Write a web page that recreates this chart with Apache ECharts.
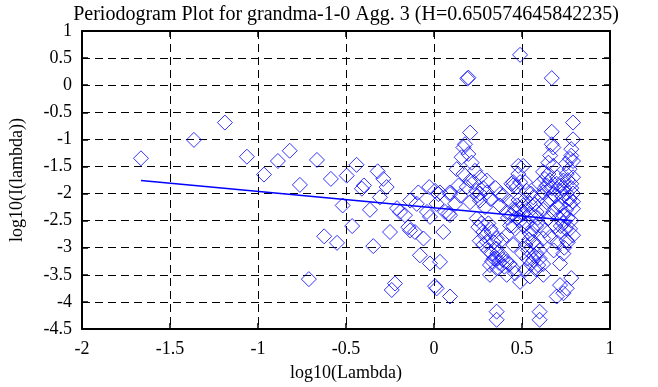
<!DOCTYPE html>
<html>
<head>
<meta charset="utf-8">
<script src="https://cdn.jsdelivr.net/npm/echarts@6/dist/echarts.min.js"></script>
<style>html,body{margin:0;padding:0;background:#fff}#c{width:658px;height:387px}</style>
</head>
<body>
<div id="c"></div>
<script>
const titleText = 'Periodogram Plot for grandma-1-0 Agg. 3 (H=0.650574645842235)';
const xName = 'log10(Lambda)';
const yName = 'log10(I(lambda))';
const xTicks = [-2, -1.5, -1, -0.5, 0, 0.5, 1];
const yTicks = [1, 0.5, 0, -0.5, -1, -1.5, -2, -2.5, -3, -3.5, -4, -4.5];

const pointsLow = [
  [-1.665,-1.35],[-1.364,-1.01],[-1.188,-0.69],[-1.063,-1.32],[-0.966,-1.65],[-0.887,-1.40],
  [-0.82,-1.21],[-0.762,-1.84],[-0.711,-3.58],[-0.665,-1.38],[-0.624,-2.79],[-0.586,-1.73],
  [-0.551,-2.91],[-0.519,-2.22],[-0.496,-1.67],[-0.465,-2.60],[-0.44,-1.47],[-0.41,-1.91],
  [-0.398,-1.85],[-0.364,-2.30],[-0.345,-2.97],[-0.32,-1.59],[-0.307,-2.07],[-0.288,-1.73],
  [-0.269,-1.88],[-0.25,-2.71],[-0.24,-3.78],[-0.222,-3.66],[-0.21,-2.27],[-0.193,-2.34],
  [-0.165,-2.40],[-0.146,-2.62],[-0.136,-2.13],[-0.136,-2.68],[-0.108,-2.71],[-0.098,-2.19],
  [-0.089,-1.98],[-0.08,-3.14],[-0.06,-2.83],[-0.04,-2.34],[-0.027,-1.88],[-0.023,-2.43],
  [-0.023,-3.29],[0.006,-3.71],[0.006,-1.95]
];
const pointsMid = [
  [0.195,0.14],[0.19,0.12],[0.205,-0.875],[0.176,-1.09],[0.167,-1.15],[0.157,-1.33],[0.195,-1.27],
  [0.214,-1.43],[0.129,-1.55],[0.167,-1.64],[0.233,-1.58],[0.261,-1.70],[0.30,-1.76],[0.205,-1.76],
  [0.186,-1.88],[0.091,-2.01],[0.025,-2.01],[0.375,-2.01],[0.261,-2.0],[0.479,-1.49],[0.479,-1.64],
  [0.489,-1.79],[0.47,-1.88],[0.44,-1.82],[0.489,0.56],[0.45,-1.79],
  [0.034,-1.98],[0.09,-1.98],[0.14,-1.85],[0.15,-2.04],[0.226,-1.79],[0.245,-2.04],[0.30,-1.98],
  [0.394,-2.04],[0.45,-1.85],[0.015,-2.19],[0.12,-2.19],[0.205,-2.16],[0.261,-2.13],[0.29,-2.25],
  [0.063,-2.34],[0.082,-2.37],[0.091,-2.40],[0.053,-2.71],[0.243,-2.46],[0.252,-2.62],[0.28,-2.71],
  [0.30,-2.89],[0.28,-2.95],[0.328,-3.11],[0.356,-3.20],[0.384,-3.14],[0.413,-3.26],[0.318,-3.32],
  [0.356,-3.38],[0.45,-3.38],[0.318,-3.50],[0.413,-3.50],[0.46,-3.47],[0.413,-2.77],[0.45,-2.95],
  [0.356,-2.83],[0.432,-2.59],[0.47,-2.46],[0.489,-2.28],[0.47,-2.22],[0.413,-2.34],[0.375,-2.22],
  [0.309,-2.55],[0.328,-2.71],[0.384,-2.86],[0.309,-3.05],[0.356,-3.02],[0.489,-3.63],[0.034,-3.26],
  [0.015,-3.75],[0.091,-3.90],[0.356,-4.18],[0.356,-4.33],
  [0.34,-3.2],[0.37,-3.28],[0.39,-3.22],[0.33,-3.25],[0.40,-3.35],[0.43,-3.3],[0.36,-3.1],
  [0.27,-2.55],[0.29,-2.78],[0.26,-2.87],[0.32,-2.65],[0.34,-2.9],
  [0.43,-2.15],[0.46,-2.3],[0.44,-2.4],[0.48,-2.12],[0.50,-2.38],[0.49,-2.5],[0.42,-2.45],[0.45,-2.6],
  [0.28,-1.9],[0.32,-2.1],[0.35,-1.9],[0.24,-1.95]
];
const pointsHigh = [
  [0.669,0.13],[0.79,-0.69],[0.669,-0.86],[0.79,-1.0],[0.669,-1.09],[0.678,-1.15],[0.78,-1.18],
  [0.66,-1.30],[0.78,-1.30],[0.79,-1.40],[0.773,-1.36],[0.65,-1.43],[0.678,-1.49],[0.507,-1.49],
  [0.65,-1.64],[0.63,-1.73],[0.66,-1.76],[0.697,-1.82],[0.754,-1.64],[0.79,-1.70],[0.78,-1.82],
  [0.735,-1.76],[0.60,-1.82],[0.517,-1.79],[0.527,-1.95],[0.621,-1.98],[0.678,-2.01],[0.754,-2.0],
  [0.716,-1.95],[0.79,-2.0],[0.564,-2.07],
  [0.507,-2.22],[0.545,-2.19],[0.64,-2.16],[0.716,-2.22],[0.773,-2.19],[0.79,-2.28],[0.507,-2.37],
  [0.583,-2.34],[0.678,-2.34],[0.735,-2.40],[0.527,-2.55],[0.60,-2.59],[0.63,-2.68],[0.735,-2.55],
  [0.773,-2.65],[0.79,-2.77],[0.716,-2.71],[0.754,-2.86],[0.545,-2.74],[0.621,-2.83],[0.564,-2.89],
  [0.536,-3.05],[0.583,-3.11],[0.564,-3.23],[0.60,-3.20],[0.592,-3.32],[0.735,-3.11],[0.716,-3.29],
  [0.517,-3.41],[0.545,-3.53],[0.621,-3.50],[0.78,-3.56],[0.716,-3.69],[0.754,-3.75],[0.697,-3.90],
  [0.735,-3.84],[0.60,-4.18],[0.60,-4.33],
  [0.62,-1.6],[0.64,-1.85],[0.67,-1.9],[0.70,-1.7],[0.72,-1.85],[0.74,-1.9],[0.76,-1.75],[0.77,-1.55],
  [0.75,-1.45],[0.63,-1.9],[0.61,-2.05],[0.69,-2.05],[0.73,-2.05],[0.77,-2.1],[0.66,-2.1],[0.70,-2.25],
  [0.75,-2.3],[0.62,-2.3],[0.65,-2.45],[0.71,-2.45],[0.76,-2.45],[0.78,-2.5],[0.69,-2.6],[0.75,-2.65],
  [0.59,-2.45],[0.55,-2.4],[0.53,-2.3],[0.57,-2.2],[0.52,-2.1],[0.55,-2.0],[0.58,-2.6],[0.56,-2.65],
  [0.54,-2.85],[0.58,-2.95],[0.60,-3.05],[0.57,-3.15],[0.55,-3.3],[0.62,-3.3],[0.58,-3.4],[0.53,-3.2],
  [0.76,-2.9],[0.74,-3.0],[0.78,-1.9],[0.79,-2.15],[0.72,-2.6],[0.66,-2.8],[0.70,-2.9],[0.68,-3.05],
  [0.51,-2.6],[0.50,-2.8],[0.52,-2.95],[0.50,-3.1]
];
const fitX = [-1.665, 0.79];
const fitY = [-1.76, -2.50];

const FONT = 'Liberation Serif';
const points = pointsLow.concat(pointsMid, pointsHigh);
const fitLine = fitX.map((x, i) => [x, fitY[i]]);

const chart = echarts.init(document.getElementById('c'), null, {renderer: 'canvas'});
const gridLine = {show: true, lineStyle: {color: '#000', width: 1, type: [8, 5]}};
const axisBase = {
  type: 'value',
  axisLine: {show: true, onZero: false, lineStyle: {color: '#000', width: 2}},
  axisTick: {show: true, inside: true, length: 6, lineStyle: {color: '#000', width: 1.5}},
  axisLabel: {color: '#000', fontFamily: FONT, fontSize: 18},
};
chart.setOption({
  animation: false,
  backgroundColor: '#fff',
  title: {
    text: titleText, left: 341, top: 0, textAlign: 'center',
    textStyle: {fontFamily: FONT, fontSize: 20, fontWeight: 'normal', color: '#000'}
  },
  grid: {left: 82, right: 48, top: 31, bottom: 56},
  xAxis: [
    Object.assign({}, axisBase, {
      min: xTicks[0], max: xTicks[xTicks.length - 1], interval: 0.5, position: 'bottom',
      name: xName, nameLocation: 'middle', nameGap: 35,
      nameTextStyle: {fontFamily: FONT, fontSize: 18, color: '#000'},
      axisLabel: Object.assign({}, axisBase.axisLabel, {margin: 11}),
      splitLine: gridLine
    }),
    Object.assign({}, axisBase, {
      min: xTicks[0], max: xTicks[xTicks.length - 1], interval: 0.5, position: 'top',
      axisLabel: {show: false}, splitLine: {show: false}
    })
  ],
  yAxis: [
    Object.assign({}, axisBase, {
      min: yTicks[yTicks.length - 1], max: yTicks[0], interval: 0.5, position: 'left',
      name: yName, nameLocation: 'middle', nameGap: 56, nameRotate: 90,
      nameTextStyle: {fontFamily: FONT, fontSize: 18, color: '#000'},
      axisLabel: Object.assign({}, axisBase.axisLabel, {margin: 10}),
      splitLine: gridLine
    }),
    Object.assign({}, axisBase, {
      min: yTicks[yTicks.length - 1], max: yTicks[0], interval: 0.5, position: 'right',
      axisLabel: {show: false}, splitLine: {show: false}
    })
  ],
  series: [
    {
      type: 'scatter', data: points, symbol: 'diamond', symbolSize: 15,
      itemStyle: {color: 'rgba(0,0,0,0)', borderColor: '#0000ff', borderWidth: 1},
      emphasis: {disabled: true}, silent: true
    },
    {
      type: 'line', data: fitLine, showSymbol: false, symbol: 'none',
      lineStyle: {color: '#0000ff', width: 1.5}, silent: true
    }
  ]
});
</script>
</body>
</html>
